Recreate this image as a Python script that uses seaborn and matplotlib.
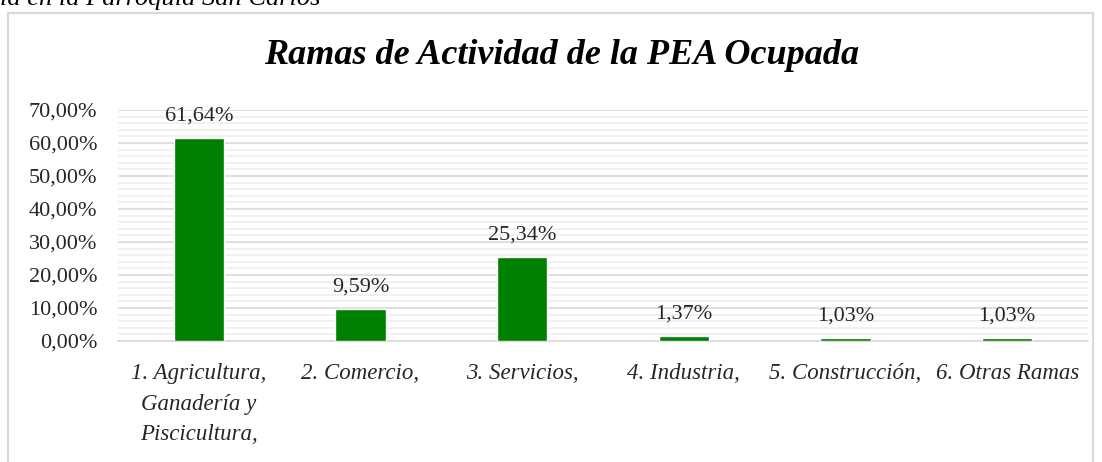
import numpy as np
import pandas as pd
import seaborn as sns
import matplotlib.pyplot as plt
from matplotlib.patches import Rectangle
from matplotlib.ticker import MultipleLocator, FuncFormatter

# datos
ramas = ["1. Agricultura,\nGanadería y\nPiscicultura,", "2. Comercio,", "3. Servicios,",
         "4. Industria,", "5. Construcción,", "6. Otras Ramas"]
porcentajes = [61.64, 9.59, 25.34, 1.37, 1.03, 1.03]
etiquetas = ["61,64%", "9,59%", "25,34%", "1,37%", "1,03%", "1,03%"]

df = pd.DataFrame({"rama": ramas, "pct": porcentajes})

sns.set_style("white")
plt.rcParams["font.family"] = ["Liberation Serif", "DejaVu Serif"]

fig = plt.figure(figsize=(11.02, 4.62), dpi=100)
ax = fig.add_axes([118 / 1102, 1 - 341 / 462, (1088 - 118) / 1102, (341 - 110) / 462])

sns.barplot(data=df, x="rama", y="pct", color="#008000", width=0.31,
            saturation=1, ax=ax, zorder=3)

ax.set_ylim(0, 70)
ax.set_xlim(-0.5, 5.5)
ax.yaxis.set_major_locator(MultipleLocator(10))
ax.yaxis.set_minor_locator(MultipleLocator(2))
ax.yaxis.set_major_formatter(FuncFormatter(lambda v, p: f"{v:.2f}".replace(".", ",") + "%"))
ax.grid(axis="y", which="major", color="#d9d9d9", linewidth=1.2, zorder=0)
ax.grid(axis="y", which="minor", color="#efefef", linewidth=1.2, zorder=0)
ax.grid(axis="x", visible=False)
for s in ["top", "right", "left"]:
    ax.spines[s].set_visible(False)
ax.spines["bottom"].set_color("#d9d9d9")
ax.spines["bottom"].set_linewidth(1.2)
ax.tick_params(axis="y", length=0, labelsize=16, colors="#262626", pad=15)
ax.tick_params(axis="x", length=0, labelsize=16.5, colors="#262626", pad=16)
for t in ax.get_xticklabels():
    t.set_fontstyle("italic")
    t.set_linespacing(1.6)
ax.set_xlabel("")
ax.set_ylabel("")

for i, (v, lab) in enumerate(zip(porcentajes, etiquetas)):
    ax.annotate(lab, (i, v), xytext=(0, 9), textcoords="offset points",
                ha="center", va="bottom", fontsize=16, color="#262626")

fig.text(0.51, 1 - 56 / 462, "Ramas de Actividad de la PEA Ocupada", ha="center", va="center",
         fontsize=26, fontweight="bold", fontstyle="italic", color="black")
fig.text(0.0, 1 - 5 / 462, "la en la Parroquia San Carlos", ha="left", va="baseline",
         fontsize=19, fontstyle="italic", color="black")

fig.patches.append(Rectangle((8 / 1102, -0.05), (1093 - 8) / 1102, 1.05 - 13 / 462,
                             transform=fig.transFigure, fill=False,
                             edgecolor="#d9d9d9", linewidth=1.5))

fig.savefig("out.png", dpi=100)
